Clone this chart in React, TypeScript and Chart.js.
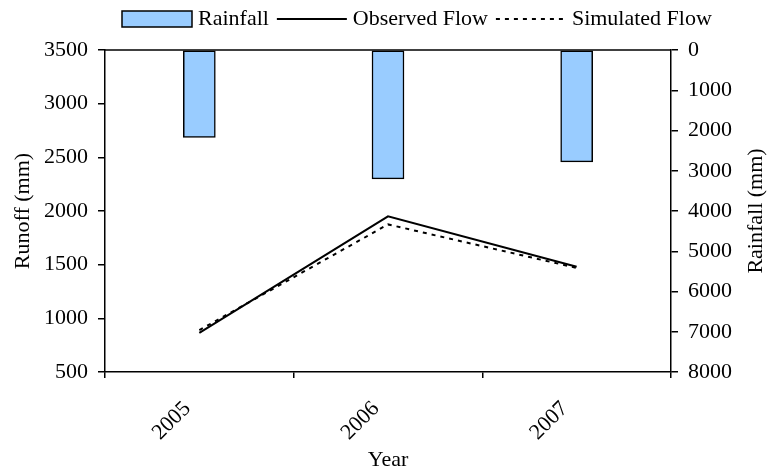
import React, { useEffect, useRef } from "react";
import { Chart, registerables } from "chart.js";

Chart.register(...registerables);

// ---- data ----
const years = ["2005", "2006", "2007"];
const rainfall = [2170, 3200, 2780];
const observedFlow = [865, 1950, 1480];
const simulatedFlow = [890, 1875, 1470];
const runoffRange = [500, 3500];
const runoffStep = 500;
const rainfallRange = [0, 8000];
const rainfallStep = 1000;
const seriesNames = ["Rainfall", "Observed Flow", "Simulated Flow"];

const FONT = "'Liberation Serif', 'Times New Roman', Times, serif";
const FS = 22;

const decorPlugin = {
  id: "decor",
  afterDraw(chart: any) {
    const { ctx, chartArea } = chart;
    ctx.save();
    // top frame line
    ctx.strokeStyle = "#000";
    ctx.lineWidth = 1.5;
    ctx.beginPath();
    ctx.moveTo(chartArea.left, chartArea.top);
    ctx.lineTo(chartArea.right, chartArea.top);
    ctx.stroke();

    // right axis title (reads bottom-to-top)
    ctx.font = `${FS}px ${FONT}`;
    ctx.fillStyle = "#000";
    ctx.textAlign = "center";
    ctx.textBaseline = "middle";
    ctx.save();
    ctx.translate(chart.width - 11, (chartArea.top + chartArea.bottom) / 2);
    ctx.rotate(-Math.PI / 2);
    ctx.fillText("Rainfall (mm)", 0, 0);
    ctx.restore();

    // legend
    const sampleW = 70;
    const sampleH = 16;
    const gapText = 6;
    const gapItem = 8;
    const cy = 19;
    let x = 122;
    ctx.textAlign = "left";
    chart.data.datasets.forEach((ds: any) => {
      if ((ds.type || chart.config.type) === "bar") {
        ctx.fillStyle = ds.backgroundColor;
        ctx.fillRect(x, cy - sampleH / 2, sampleW, sampleH);
        ctx.strokeStyle = ds.borderColor;
        ctx.lineWidth = 1.5;
        ctx.setLineDash([]);
        ctx.strokeRect(x, cy - sampleH / 2, sampleW, sampleH);
      } else {
        ctx.strokeStyle = ds.borderColor;
        ctx.lineWidth = ds.borderWidth;
        ctx.setLineDash(ds.borderDash || []);
        ctx.beginPath();
        ctx.moveTo(x, cy);
        ctx.lineTo(x + sampleW, cy);
        ctx.stroke();
        ctx.setLineDash([]);
      }
      x += sampleW + gapText;
      ctx.fillStyle = "#000";
      ctx.fillText(ds.label, x, cy);
      x += ctx.measureText(ds.label).width + gapItem;
    });
    ctx.restore();
  },
};

const plain = (v: any) => String(v);

export default function App() {
  const ref = useRef<HTMLCanvasElement | null>(null);

  useEffect(() => {
    if (!ref.current) return;
    Chart.defaults.font.family = FONT;
    Chart.defaults.font.size = FS;
    Chart.defaults.color = "#000";

    const chart = new Chart(ref.current, {
      type: "bar",
      data: {
        labels: years,
        datasets: [
          {
            type: "bar",
            label: seriesNames[0],
            data: rainfall,
            yAxisID: "y1",
            backgroundColor: "#99CCFF",
            borderColor: "#000",
            borderWidth: 1.5,
            borderSkipped: false,
            barThickness: 32,
          } as any,
          {
            type: "line",
            label: seriesNames[1],
            data: observedFlow,
            yAxisID: "y",
            borderColor: "#000",
            backgroundColor: "#000",
            borderWidth: 2,
            pointRadius: 0,
            tension: 0,
            fill: false,
          } as any,
          {
            type: "line",
            label: seriesNames[2],
            data: simulatedFlow,
            yAxisID: "y",
            borderColor: "#000",
            backgroundColor: "#000",
            borderWidth: 2,
            borderDash: [4, 5],
            pointRadius: 0,
            tension: 0,
            fill: false,
          } as any,
        ],
      },
      options: {
        animation: false,
        responsive: false,
        layout: { padding: { top: 50, left: 0, right: 0, bottom: 0 } },
        plugins: {
          legend: { display: false },
          tooltip: { enabled: false },
        },
        scales: {
          x: {
            offset: true,
            grid: {
              offset: true,
              drawOnChartArea: false,
              drawTicks: true,
              tickLength: 6,
              color: "#000",
              lineWidth: 1.5,
            },
            border: { display: true, color: "#000", width: 1.5 },
            ticks: {
              autoSkip: false,
              maxRotation: 45,
              minRotation: 45,
              padding: 18,
              labelOffset: -12,
              font: { size: FS },
            },
            title: {
              display: true,
              text: "Year",
              font: { size: FS },
              padding: { top: 0, bottom: 0 },
            },
            afterFit(scale: any) {
              scale.height = 101;
            },
          },
          y: {
            position: "left",
            min: runoffRange[0],
            max: runoffRange[1],
            grid: {
              drawOnChartArea: false,
              drawTicks: true,
              tickLength: 7,
              color: "#000",
              lineWidth: 1.5,
            },
            border: { display: true, color: "#000", width: 1.5 },
            ticks: { stepSize: runoffStep, padding: 10, font: { size: FS }, callback: plain },
            title: {
              display: true,
              text: "Runoff (mm)",
              font: { size: FS },
              padding: { top: 10, bottom: 0 },
            },
            afterFit(scale: any) {
              scale.width = 105;
            },
          },
          y1: {
            position: "right",
            reverse: true,
            min: rainfallRange[0],
            max: rainfallRange[1],
            grid: {
              drawOnChartArea: false,
              drawTicks: true,
              tickLength: 7,
              color: "#000",
              lineWidth: 1.5,
            },
            border: { display: true, color: "#000", width: 1.5 },
            ticks: { stepSize: rainfallStep, padding: 10, font: { size: FS }, callback: plain },
            afterFit(scale: any) {
              scale.width = 96;
            },
          },
        },
      } as any,
      plugins: [decorPlugin],
    });
    return () => chart.destroy();
  }, []);

  return (
    <div style={{ position: "fixed", left: 0, top: 0, width: 767, height: 473, background: "#fff" }}>
      <canvas ref={ref} width={767} height={473} style={{ display: "block" }} />
    </div>
  );
}
